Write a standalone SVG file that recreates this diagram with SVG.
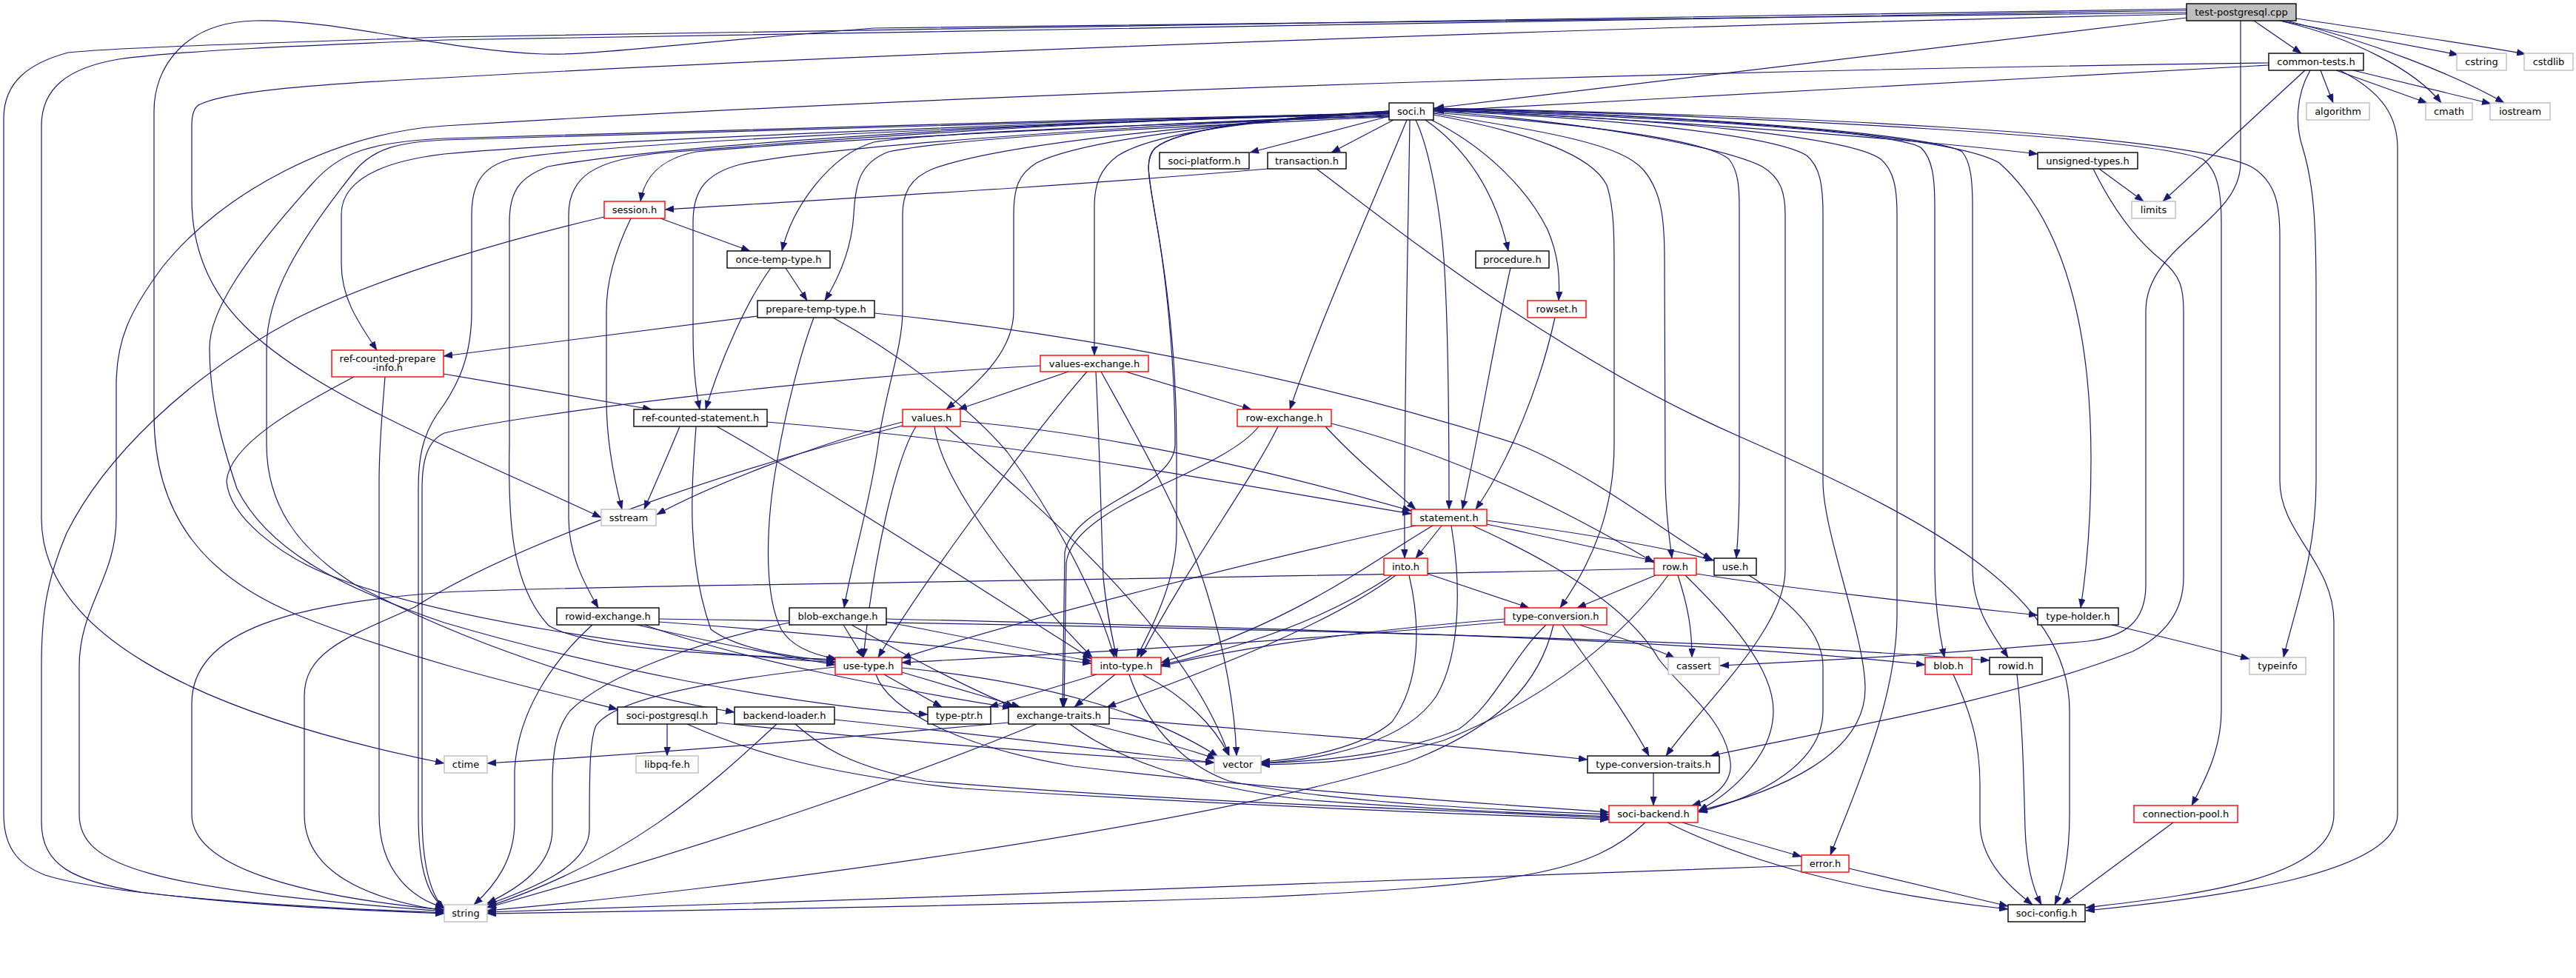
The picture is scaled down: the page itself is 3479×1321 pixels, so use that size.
<svg xmlns="http://www.w3.org/2000/svg" width="3479" height="1321" viewBox="0 0 3479 1321">
<defs>
<marker id="a" markerWidth="12" markerHeight="9" refX="12" refY="4.5" orient="auto" markerUnits="userSpaceOnUse"><path d="M0,0 L12,4.5 L0,9 z" fill="#191970" stroke="#191970" stroke-width="0.5"/></marker>
<style>
.e{fill:none;stroke:#191970;stroke-width:1.2;marker-end:url(#a)}
rect{stroke-width:1.4}
.b{fill:#fff;stroke:#000}
.r{fill:#fff;stroke:#ff0000}
.g{fill:#fff;stroke:#bfbfbf}
.t{fill:#bfbfbf;stroke:#000}
text{font-family:"DejaVu Sans","Liberation Sans",sans-serif;font-size:13px;fill:#000;text-anchor:middle}
</style>
</defs>
<rect width="3479" height="1321" fill="#fff"/>
<g id="edges">
<path class="e" d="M3044,28 L3108,72"/>
<path class="e" d="M3079,28 C3160,44 3260,62 3320,74"/>
<path class="e" d="M3101,25 C3200,40 3330,58 3411,73"/>
<path class="e" d="M3083,29 C3180,52 3262,95 3297,139"/>
<path class="e" d="M3088,28 C3200,55 3320,103 3382,139"/>
<path class="e" d="M2953,24 L1938,146"/>
<path class="e" d="M2953,12 L600,50 C300,60 150,65 92,71 C40,85 5,110 5,160 L5,1100 C5,1150 30,1170 61,1182 C150,1210 400,1225 600,1233"/>
<path class="e" d="M2953,14 L600,54 C400,62 250,68 160,80 C90,92 56,120 56,170 L56,700 C56,850 250,960 600,1031"/>
<path class="e" d="M2953,17 L1180,38 C900,60 800,75 733,73 C600,68 450,25 344,28 C250,30 208,90 208,150 L208,560 C208,700 280,780 400,830 C550,890 700,925 834,958"/>
<path class="e" d="M2953,19 C2300,33 1200,70 600,105 C400,115 300,125 268,142 C262,146 259,155 259,170 L259,268 C259,330 280,390 330,440 C420,530 600,600 812,699"/>
<path class="e" d="M3026,28 L3026,220 C3026,300 2898,330 2898,420 L2898,790 C2898,840 2870,860 2820,866 C2650,882 2450,893 2323,899"/>
<path class="e" d="M3134,95 L3151,139"/>
<path class="e" d="M3155,95 L3278,139"/>
<path class="e" d="M3178,95 L3364,140"/>
<path class="e" d="M3113,95 L2921,272"/>
<path class="e" d="M3120,95 C3100,130 3100,170 3110,200 C3125,250 3128,300 3128,400 L3128,650 C3128,750 3100,820 3084,888"/>
<path class="e" d="M3160,95 C3220,125 3238,160 3238,200 L3238,1100 C3238,1180 3000,1212 2817,1230"/>
<path class="e" d="M3064,88 L1938,150"/>
<path class="e" d="M3064,85 C2500,92 1500,115 600,170 C450,180 300,260 220,360 C175,420 157,460 157,520 L157,700 C157,780 107,820 107,900 L107,1100 C107,1170 200,1200 600,1231"/>
<path class="e" d="M2835,228 L2895,272"/>
<path class="e" d="M2827,228 C2850,275 2880,320 2920,352 C2945,372 2949,390 2949,420 L2949,780 C2949,830 2920,860 2880,880 C2700,950 2450,990 2310,1021"/>
<path class="e" d="M1876,157 L1688,206"/>
<path class="e" d="M1882,162 L1798,206"/>
<path class="e" d="M1925,162 C1980,200 2020,260 2037,339"/>
<path class="e" d="M1933,162 C2000,195 2060,250 2090,310 C2105,345 2107,375 2105,406"/>
<path class="e" d="M1912,162 C1930,200 1945,280 1950,350 C1957,450 1957,600 1957,688"/>
<path class="e" d="M1904,162 C1902,300 1896,550 1897,754"/>
<path class="e" d="M1900,162 C1860,260 1780,440 1742,553"/>
<path class="e" d="M1936,155 C2070,180 2150,210 2170,250 C2180,280 2180,320 2180,360 L2180,600 C2180,690 2150,760 2107,821"/>
<path class="e" d="M1936,153 C2100,180 2190,195 2220,230 C2245,260 2248,300 2248,350 L2249,650 C2250,700 2255,730 2258,754"/>
<path class="e" d="M1936,152 C2100,165 2300,185 2335,215 C2347,230 2349,250 2349,280 L2349,650 C2349,700 2347,730 2345,754"/>
<path class="e" d="M1936,150 C2150,165 2330,200 2380,225 C2405,240 2411,260 2411,290 L2411,770 C2411,850 2300,950 2250,1021"/>
<path class="e" d="M1936,150 C2200,160 2400,185 2440,210 C2458,225 2462,250 2462,290 L2462,650 C2462,720 2519,860 2519,930 C2519,1020 2400,1070 2294,1095"/>
<path class="e" d="M1936,149 C2250,160 2500,185 2540,215 C2558,230 2562,255 2562,290 L2562,830 C2562,950 2500,1080 2472,1155"/>
<path class="e" d="M1936,148 C2300,160 2570,180 2595,200 C2610,215 2613,240 2613,280 L2613,770 C2613,820 2620,860 2626,888"/>
<path class="e" d="M1936,147 C2350,158 2620,185 2650,205 C2662,220 2664,245 2664,280 L2664,770 C2664,820 2690,855 2712,888"/>
<path class="e" d="M1936,147 C2400,160 2650,190 2700,220 C2790,300 2824,450 2824,620 C2824,700 2818,770 2810,821"/>
<path class="e" d="M1936,148 C2300,165 2600,190 2752,208"/>
<path class="e" d="M1936,146 C2400,155 2950,180 3040,225 C3075,245 3079,280 3079,320 L3079,650 C3079,720 3152,760 3152,840 L3152,1100 C3152,1190 2950,1210 2817,1226"/>
<path class="e" d="M1936,146 C2400,158 2900,185 2975,215 C2995,230 3000,260 3000,300 L3000,960 C3000,1010 2980,1050 2960,1088"/>
<path class="e" d="M1876,155 C1500,170 1100,190 940,205 C890,215 870,240 865,272"/>
<path class="e" d="M1876,157 C1500,170 1250,180 1180,192 C1120,210 1070,280 1056,339"/>
<path class="e" d="M1876,158 C1600,170 1300,185 1200,205 C1160,220 1155,250 1153,290 C1150,340 1130,380 1114,406"/>
<path class="e" d="M1876,156 C1500,170 1100,200 1000,222 C950,235 936,260 936,300 L936,450 C936,500 940,530 945,553"/>
<path class="e" d="M1876,154 C1400,165 800,190 600,208 C500,220 461,250 461,290 L461,356 C461,400 480,430 509,473"/>
<path class="e" d="M1876,153 C1500,160 1100,190 900,206 C800,215 768,240 768,290 L768,700 C768,750 790,790 808,821"/>
<path class="e" d="M1876,150 C1600,170 1450,195 1400,220 C1375,235 1369,255 1369,290 L1369,420 C1369,470 1330,510 1278,553"/>
<path class="e" d="M1876,151 C1650,165 1550,185 1510,210 C1485,228 1478,250 1478,280 L1478,480"/>
<path class="e" d="M1876,152 C1600,170 1350,195 1260,228 C1230,240 1219,260 1219,290 L1219,420 C1219,470 1195,530 1186,600 C1175,680 1150,760 1140,821"/>
<path class="e" d="M1876,150 C1700,160 1590,175 1560,200 C1545,215 1552,240 1560,290 C1580,400 1589,500 1589,600 L1589,720 C1589,780 1560,840 1535,888"/>
<path class="e" d="M1876,150 C1700,160 1590,175 1560,200 C1545,215 1552,240 1560,290 C1580,400 1587,520 1587,600 C1587,660 1450,680 1438,746 L1435,955"/>
<path class="e" d="M1876,152 C1400,165 900,195 740,225 C700,240 688,260 688,300 L688,600 C686,700 690,790 741,845 C800,880 1000,885 1128,891"/>
<path class="e" d="M1876,153 C1400,162 800,180 600,187 C500,192 459,205 420,250 C330,350 283,420 283,470 C283,540 300,600 320,660 C360,740 450,790 600,841 C800,900 1050,950 1253,965"/>
<path class="e" d="M1876,153 C1400,165 800,182 600,189 C540,192 505,200 480,230 C400,330 360,400 360,470 L360,600 C360,680 400,740 480,790 C650,880 850,940 992,962"/>
<path class="e" d="M1876,153 C1300,170 800,195 690,215 C650,225 637,250 637,290 L637,420 C637,480 620,520 590,560 C570,590 565,620 565,660 L565,1100 C565,1180 580,1212 600,1226"/>
<path class="e" d="M1712,228 C1400,255 1100,270 898,283"/>
<path class="e" d="M1778,228 C1900,320 2100,480 2350,590 C2600,700 2795,800 2795,960 L2795,1100 C2795,1160 2785,1200 2775,1222"/>
<path class="e" d="M892,295 L1013,339"/>
<path class="e" d="M852,295 C830,340 819,380 819,420 L819,540 C819,600 830,650 840,688"/>
<path class="e" d="M816,293 C700,320 520,370 400,430 C250,510 140,620 90,720 C60,790 56,840 56,900 L56,1110 C56,1170 100,1190 190,1205 C350,1225 500,1230 600,1234"/>
<path class="e" d="M1061,362 L1090,406"/>
<path class="e" d="M1041,362 C1010,405 975,480 953,553"/>
<path class="e" d="M1023,427 L599,481"/>
<path class="e" d="M1099,429 C1080,480 1060,560 1050,620 C1035,700 1030,800 1055,850 C1070,875 1100,885 1130,890"/>
<path class="e" d="M1125,429 C1200,470 1300,540 1360,610 C1420,690 1480,800 1505,888"/>
<path class="e" d="M1181,423 C1500,455 1800,520 2050,600 C2150,640 2250,720 2312,756"/>
<path class="e" d="M2040,362 C2020,450 1995,600 1975,688"/>
<path class="e" d="M2100,429 C2080,520 2040,620 1993,688"/>
<path class="e" d="M599,505 L880,553"/>
<path class="e" d="M520,509 C516,560 512,600 512,650 L512,1100 C512,1180 560,1215 600,1226"/>
<path class="e" d="M478,509 C400,550 310,600 306,650 C310,700 380,750 440,775 C600,840 900,880 1128,895"/>
<path class="e" d="M1443,502 L1294,553"/>
<path class="e" d="M1520,502 L1690,553"/>
<path class="e" d="M1468,502 C1400,580 1250,780 1186,888"/>
<path class="e" d="M1480,502 C1485,600 1487,700 1490,780 C1495,830 1502,860 1508,888"/>
<path class="e" d="M1487,502 C1530,580 1600,700 1630,800 C1655,880 1668,960 1670,1021"/>
<path class="e" d="M1405,494 C1100,510 700,560 600,585 C578,595 570,620 570,660 L570,1100 C570,1180 585,1212 600,1228"/>
<path class="e" d="M1036,570 C1400,600 1700,660 1906,694"/>
<path class="e" d="M918,576 C900,620 882,660 870,688"/>
<path class="e" d="M940,576 C935,650 925,750 960,850 C1000,880 1080,888 1128,894"/>
<path class="e" d="M968,576 C1100,650 1300,780 1474,890"/>
<path class="e" d="M1297,569 C1550,590 1800,660 1906,690"/>
<path class="e" d="M1219,570 C1100,600 950,660 887,695"/>
<path class="e" d="M1219,575 C1000,630 700,730 560,820 C470,860 411,880 411,940 L411,1100 C411,1180 500,1215 600,1230"/>
<path class="e" d="M1237,576 C1210,620 1180,750 1166,888"/>
<path class="e" d="M1262,576 C1270,640 1350,760 1475,888"/>
<path class="e" d="M1277,576 C1400,680 1600,850 1660,1021"/>
<path class="e" d="M1790,576 C1830,620 1880,660 1912,688"/>
<path class="e" d="M1798,572 C1950,610 2100,680 2234,760"/>
<path class="e" d="M1726,576 C1690,650 1600,770 1540,888"/>
<path class="e" d="M1700,576 C1650,640 1450,680 1440,760 L1437,955"/>
<path class="e" d="M1947,710 L1912,754"/>
<path class="e" d="M2008,703 C2150,722 2250,740 2315,757"/>
<path class="e" d="M2008,708 C2100,728 2180,745 2234,758"/>
<path class="e" d="M1935,710 C1850,760 1750,840 1568,895"/>
<path class="e" d="M1912,710 C1750,745 1400,830 1218,889"/>
<path class="e" d="M1989,710 C2100,760 2200,820 2240,890 C2270,930 2330,970 2337,1030 C2340,1060 2310,1080 2285,1088"/>
<path class="e" d="M1960,710 C1972,780 1975,880 1940,940 C1900,1000 1800,1025 1703,1031"/>
<path class="e" d="M1880,777 C1800,830 1700,870 1568,898"/>
<path class="e" d="M1885,777 C1800,840 1650,900 1495,955"/>
<path class="e" d="M1928,775 L2065,821"/>
<path class="e" d="M1903,777 C1918,840 1920,920 1880,975 C1840,1010 1760,1025 1703,1029"/>
<path class="e" d="M2291,775 C2450,800 2650,820 2752,831"/>
<path class="e" d="M2236,777 L2130,821"/>
<path class="e" d="M2266,777 C2280,820 2285,850 2285,888"/>
<path class="e" d="M2276,777 C2330,830 2395,900 2395,960 C2395,1020 2340,1070 2294,1095"/>
<path class="e" d="M2253,777 C2200,850 2100,940 1950,1000 C1850,1030 1760,1032 1703,1033"/>
<path class="e" d="M2234,768 C1500,785 800,790 600,800 C400,815 259,850 259,950 L259,1100 C259,1170 400,1210 600,1229"/>
<path class="e" d="M2362,777 C2430,820 2462,860 2462,900 L2462,960 C2462,1030 2380,1075 2294,1097"/>
<path class="e" d="M2032,836 C1800,855 1650,880 1568,900"/>
<path class="e" d="M2032,840 C1700,870 1400,885 1218,895"/>
<path class="e" d="M2133,844 C2200,865 2240,878 2262,889"/>
<path class="e" d="M2110,844 C2150,900 2200,970 2227,1021"/>
<path class="e" d="M2088,844 C2040,890 2020,950 1970,985 C1900,1015 1800,1028 1703,1031"/>
<path class="e" d="M2098,844 C2080,920 2030,980 1900,1030 C1600,1120 1000,1200 658,1230"/>
<path class="e" d="M1194,911 L1272,955"/>
<path class="e" d="M1218,908 L1378,955"/>
<path class="e" d="M1218,902 C1400,920 1550,960 1645,1022"/>
<path class="e" d="M1183,911 C1200,960 1300,1010 1450,1035 C1700,1065 2000,1085 2173,1097"/>
<path class="e" d="M1128,901 C950,920 830,945 805,980 C796,1000 796,1050 796,1120 C796,1170 720,1200 658,1222"/>
<path class="e" d="M1481,911 L1336,955"/>
<path class="e" d="M1506,911 L1451,955"/>
<path class="e" d="M1543,911 C1600,940 1640,980 1660,1021"/>
<path class="e" d="M1525,911 C1545,970 1590,1030 1660,1055 C1800,1085 2050,1095 2173,1100"/>
<path class="e" d="M1498,970 C1800,995 2000,1010 2144,1026"/>
<path class="e" d="M1445,978 C1500,1020 1600,1060 1760,1080 C1950,1095 2100,1100 2173,1103"/>
<path class="e" d="M1472,978 C1540,995 1600,1010 1642,1025"/>
<path class="e" d="M1362,976 C1100,1000 850,1020 658,1031"/>
<path class="e" d="M1400,978 C1250,1040 1000,1130 658,1226"/>
<path class="e" d="M1074,978 C1110,1010 1150,1035 1250,1055 C1600,1085 2000,1095 2173,1105"/>
<path class="e" d="M1127,972 C1400,1000 1550,1020 1640,1030"/>
<path class="e" d="M1049,978 C950,1070 850,1160 658,1225"/>
<path class="e" d="M901,978 L901,1021"/>
<path class="e" d="M928,978 C1000,1010 1100,1045 1300,1065 C1700,1090 2000,1100 2173,1107"/>
<path class="e" d="M968,976 C1200,1000 1450,1020 1640,1030"/>
<path class="e" d="M2233,1044 L2233,1088"/>
<path class="e" d="M2272,1111 L2433,1157"/>
<path class="e" d="M2252,1111 C2350,1160 2500,1205 2712,1228"/>
<path class="e" d="M2222,1111 C2150,1180 2050,1195 1700,1212 C1300,1225 900,1230 658,1234"/>
<path class="e" d="M2497,1173 L2712,1224"/>
<path class="e" d="M2433,1169 C2000,1185 1200,1215 658,1232"/>
<path class="e" d="M2638,911 C2665,970 2674,1010 2674,1060 L2674,1110 C2674,1160 2710,1195 2745,1222"/>
<path class="e" d="M2724,911 C2732,980 2733,1050 2735,1120 C2737,1170 2745,1200 2757,1222"/>
<path class="e" d="M2935,1111 L2785,1222"/>
<path class="e" d="M2852,844 C2920,860 2980,875 3038,890"/>
<path class="e" d="M890,836 C1500,845 2300,860 2687,892"/>
<path class="e" d="M860,844 C950,865 1050,885 1128,898"/>
<path class="e" d="M890,840 C1100,855 1300,875 1474,896"/>
<path class="e" d="M870,844 C1000,890 1200,930 1366,956"/>
<path class="e" d="M800,844 C760,880 700,950 695,1040 L695,1110 C695,1160 670,1195 640,1222"/>
<path class="e" d="M1197,836 C1800,850 2300,865 2600,898"/>
<path class="e" d="M1197,840 C1300,860 1400,880 1474,893"/>
<path class="e" d="M1139,844 L1166,888"/>
<path class="e" d="M1150,844 C1250,900 1320,935 1370,955"/>
<path class="e" d="M1066,841 C950,865 820,910 770,960 C750,985 746,1020 746,1060 L746,1120 C746,1170 700,1200 658,1220"/>
</g>
<g id="n_T"><rect class="t" x="2953" y="5" width="148" height="23"/><text x="3027" y="21">test-postgresql.cpp</text></g>
<g id="n_common_tests"><rect class="b" x="3064" y="72" width="128" height="23"/><text x="3128" y="88">common-tests.h</text></g>
<g id="n_cstring"><rect class="g" x="3318" y="72" width="67" height="23"/><text x="3351.5" y="88">cstring</text></g>
<g id="n_cstdlib"><rect class="g" x="3409" y="72" width="66" height="23"/><text x="3442" y="88">cstdlib</text></g>
<g id="n_algorithm"><rect class="g" x="3115" y="139" width="85" height="23"/><text x="3157.5" y="155">algorithm</text></g>
<g id="n_cmath"><rect class="g" x="3276" y="139" width="63" height="23"/><text x="3307.5" y="155">cmath</text></g>
<g id="n_iostream"><rect class="g" x="3363" y="139" width="81" height="23"/><text x="3403.5" y="155">iostream</text></g>
<g id="n_soci"><rect class="b" x="1876" y="139" width="60" height="23"/><text x="1906" y="155">soci.h</text></g>
<g id="n_limits"><rect class="g" x="2879" y="272" width="59" height="23"/><text x="2908.5" y="288">limits</text></g>
<g id="n_unsigned_types"><rect class="b" x="2752" y="206" width="135" height="22"/><text x="2819.5" y="221.5">unsigned-types.h</text></g>
<g id="n_soci_platform"><rect class="b" x="1566" y="206" width="121" height="22"/><text x="1626.5" y="221.5">soci-platform.h</text></g>
<g id="n_transaction"><rect class="b" x="1712" y="206" width="106" height="22"/><text x="1765" y="221.5">transaction.h</text></g>
<g id="n_session"><rect class="r" x="816" y="272" width="82" height="23"/><text x="857" y="288">session.h</text></g>
<g id="n_once_temp_type"><rect class="b" x="982" y="339" width="139" height="23"/><text x="1051.5" y="355">once-temp-type.h</text></g>
<g id="n_prepare_temp_type"><rect class="b" x="1023" y="406" width="158" height="23"/><text x="1102" y="422">prepare-temp-type.h</text></g>
<g id="n_procedure"><rect class="b" x="1993" y="339" width="99" height="23"/><text x="2042.5" y="355">procedure.h</text></g>
<g id="n_rowset"><rect class="r" x="2063" y="406" width="79" height="23"/><text x="2102.5" y="422">rowset.h</text></g>
<g id="n_ref_counted_prepare_info"><rect class="r" x="448" y="473" width="151" height="36"/><text x="523.5" y="488.5">ref-counted-prepare</text><text x="523.5" y="501">-info.h</text></g>
<g id="n_values_exchange"><rect class="r" x="1405" y="480" width="146" height="22"/><text x="1478" y="495.5">values-exchange.h</text></g>
<g id="n_ref_counted_statement"><rect class="b" x="856" y="553" width="180" height="23"/><text x="946" y="569">ref-counted-statement.h</text></g>
<g id="n_values"><rect class="r" x="1219" y="553" width="78" height="23"/><text x="1258" y="569">values.h</text></g>
<g id="n_row_exchange"><rect class="r" x="1671" y="553" width="127" height="23"/><text x="1734.5" y="569">row-exchange.h</text></g>
<g id="n_sstream"><rect class="g" x="812" y="688" width="74" height="22"/><text x="849" y="703.5">sstream</text></g>
<g id="n_statement"><rect class="r" x="1906" y="688" width="102" height="22"/><text x="1957" y="703.5">statement.h</text></g>
<g id="n_into"><rect class="r" x="1869" y="754" width="59" height="23"/><text x="1898.5" y="770">into.h</text></g>
<g id="n_row"><rect class="r" x="2234" y="754" width="57" height="23"/><text x="2262.5" y="770">row.h</text></g>
<g id="n_use"><rect class="b" x="2315" y="754" width="57" height="23"/><text x="2343.5" y="770">use.h</text></g>
<g id="n_type_conversion"><rect class="r" x="2032" y="821" width="138" height="23"/><text x="2101" y="837">type-conversion.h</text></g>
<g id="n_type_holder"><rect class="b" x="2752" y="821" width="109" height="23"/><text x="2806.5" y="837">type-holder.h</text></g>
<g id="n_rowid_exchange"><rect class="b" x="752" y="821" width="138" height="23"/><text x="821" y="837">rowid-exchange.h</text></g>
<g id="n_blob_exchange"><rect class="b" x="1066" y="821" width="131" height="23"/><text x="1131.5" y="837">blob-exchange.h</text></g>
<g id="n_use_type"><rect class="r" x="1128" y="888" width="90" height="23"/><text x="1173" y="904">use-type.h</text></g>
<g id="n_into_type"><rect class="r" x="1474" y="888" width="94" height="23"/><text x="1521" y="904">into-type.h</text></g>
<g id="n_cassert"><rect class="g" x="2253" y="888" width="69" height="23"/><text x="2287.5" y="904">cassert</text></g>
<g id="n_blob"><rect class="r" x="2600" y="888" width="63" height="23"/><text x="2631.5" y="904">blob.h</text></g>
<g id="n_rowid"><rect class="b" x="2687" y="888" width="71" height="23"/><text x="2722.5" y="904">rowid.h</text></g>
<g id="n_typeinfo"><rect class="g" x="3038" y="888" width="76" height="23"/><text x="3076" y="904">typeinfo</text></g>
<g id="n_soci_postgresql"><rect class="b" x="834" y="955" width="134" height="23"/><text x="901" y="971">soci-postgresql.h</text></g>
<g id="n_backend_loader"><rect class="b" x="992" y="955" width="135" height="23"/><text x="1059.5" y="971">backend-loader.h</text></g>
<g id="n_type_ptr"><rect class="b" x="1253" y="955" width="85" height="23"/><text x="1295.5" y="971">type-ptr.h</text></g>
<g id="n_exchange_traits"><rect class="b" x="1362" y="955" width="136" height="23"/><text x="1430" y="971">exchange-traits.h</text></g>
<g id="n_ctime"><rect class="g" x="600" y="1021" width="58" height="23"/><text x="629" y="1037">ctime</text></g>
<g id="n_libpq_fe"><rect class="g" x="859" y="1021" width="84" height="23"/><text x="901" y="1037">libpq-fe.h</text></g>
<g id="n_vector"><rect class="g" x="1640" y="1021" width="63" height="23"/><text x="1671.5" y="1037">vector</text></g>
<g id="n_type_conversion_traits"><rect class="b" x="2144" y="1021" width="178" height="23"/><text x="2233" y="1037">type-conversion-traits.h</text></g>
<g id="n_soci_backend"><rect class="r" x="2173" y="1088" width="120" height="23"/><text x="2233" y="1104">soci-backend.h</text></g>
<g id="n_connection_pool"><rect class="r" x="2882" y="1088" width="140" height="23"/><text x="2952" y="1104">connection-pool.h</text></g>
<g id="n_error"><rect class="r" x="2433" y="1155" width="64" height="23"/><text x="2465" y="1171">error.h</text></g>
<g id="n_string"><rect class="g" x="600" y="1222" width="58" height="23"/><text x="629" y="1238">string</text></g>
<g id="n_soci_config"><rect class="b" x="2712" y="1222" width="104" height="23"/><text x="2764" y="1238">soci-config.h</text></g>
</svg>
